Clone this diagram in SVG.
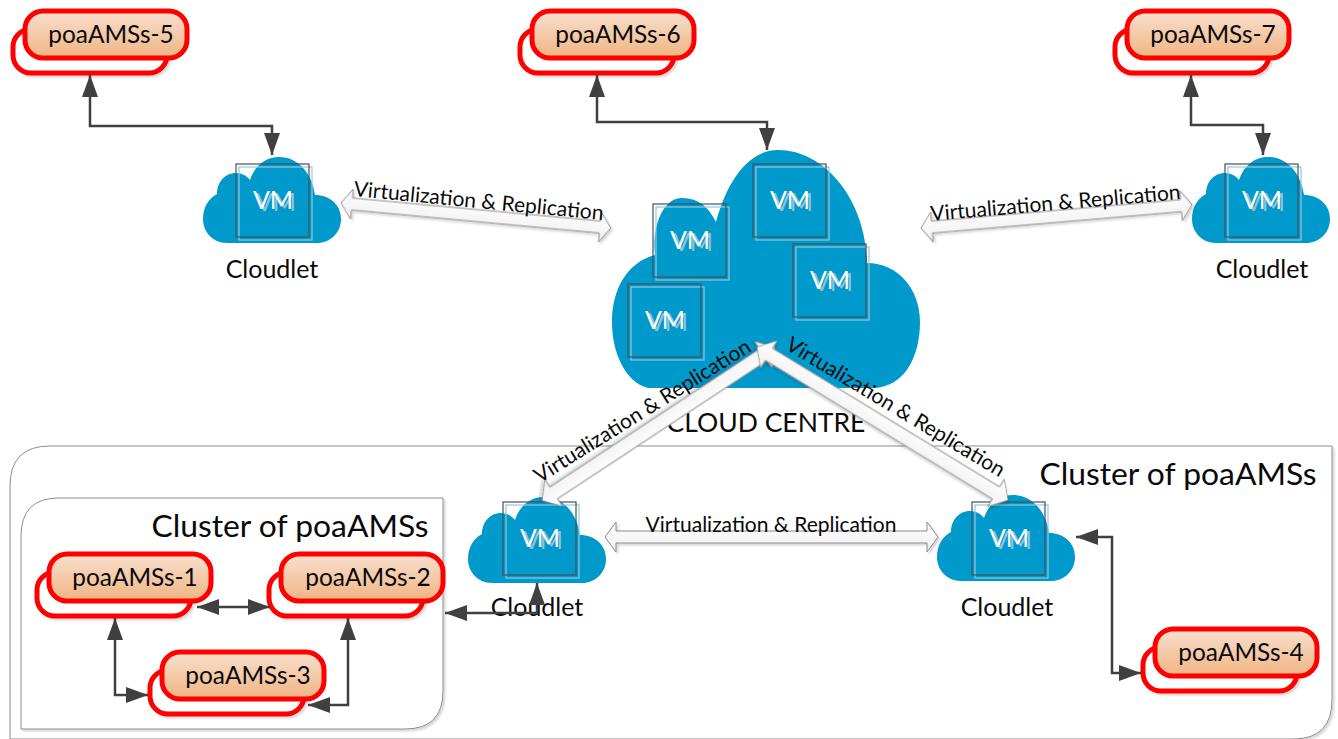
<svg xmlns="http://www.w3.org/2000/svg" xmlns:xlink="http://www.w3.org/1999/xlink" width="1338" height="739" viewBox="0 0 1338 739">
<style>
text{font-family:Lato,"Open Sans",sans-serif;fill:#0a0a0a}
.poa{font-size:24.4px;text-anchor:middle}
.big{font-size:31.8px;text-anchor:middle}
.cc{font-size:26.5px;text-anchor:middle}
.cl{font-size:25px;text-anchor:middle}
.vr{font-size:21px;text-anchor:middle}
.vm{font-size:25px;text-anchor:middle;fill:#fff}
.vs{font-size:25px;text-anchor:middle;fill:#8cc4da}
.cloud{fill:#0099cc}
.sq1{fill:none;stroke:#4a4f55;stroke-width:1.2}
.sq2{fill:none;stroke:#8fcae2;stroke-width:1.2}
.conn{fill:none;stroke:#404040;stroke-width:2.5;marker-start:url(#ah);marker-end:url(#ah)}
.blk{fill:url(#bg);stroke:#8a8a8a;stroke-width:1;filter:url(#sh)}
.frame{fill:#fff;stroke:#8c8c8c;stroke-width:1;filter:url(#sh)}
</style>
<defs>
<linearGradient id="og" x1="0" y1="0" x2="0" y2="1"><stop offset="0" stop-color="#f8e0cf"/><stop offset="1" stop-color="#f0b482"/></linearGradient>
<linearGradient id="bg" x1="0" y1="0" x2="0" y2="1"><stop offset="0" stop-color="#ffffff"/><stop offset="1" stop-color="#f0f0f0"/></linearGradient>
<filter id="sh" x="-5%" y="-30%" width="110%" height="170%"><feDropShadow dx="2" dy="2" stdDeviation="1" flood-color="#000" flood-opacity=".16"/></filter>
<marker id="ah" markerUnits="userSpaceOnUse" markerWidth="24" markerHeight="18" refX="22" refY="8" orient="auto-start-reverse"><path d="M0,0L22,8L0,16Z" fill="#404040"/></marker>
<g id="poaShape">
<rect x="13" y="29" width="154" height="44" rx="18" fill="#fff" stroke="#ff0000" stroke-width="5" filter="url(#sh)"/>
<rect x="25" y="11" width="162" height="47" rx="18" fill="url(#og)" stroke="#ff0000" stroke-width="5"/>
</g>
<path id="smallCloud" class="cloud" d="M24,86C9,86 0,74 0,62C0,50 6,41 14,37C14,25 22,16 33,16C39,16 44,19 47,23C52,8 63,0 76,0C95,0 109,16 112,38C127,38 138,48 138,62C138,76 127,86 114,86Z"/>
<g id="vm">
<rect class="sq2" x="3" y="3" width="73" height="73"/>
<rect class="sq1" width="73" height="73"/>
<text class="vs" x="40" y="47">VM</text>
<text class="vm" x="37" y="45">VM</text>
</g>
</defs>

<g id="cluster-outer">
<path class="frame" d="M50,446H1332V700Q1332,739 1293,739H10V486Q10,446 50,446Z"/>
<text class="big" x="1178" y="485">Cluster of poaAMSs</text>
</g>
<g id="cluster-inner">
<path class="frame" d="M59,498H443V691Q443,729 405,729H21V536Q21,498 59,498Z"/>
<text class="big" x="290" y="537">Cluster of poaAMSs</text>
</g>

<g id="cloud-centre">
<path class="cloud" d="M648,388C625,382 612,352 612,322C612,288 628,262 655,255C652,228 662,198 682,198C698,198 708,206 716,222C728,178 750,150 778,150C825,150 866,200 867,263C897,263 920,288 920,322C920,356 905,388 872,388Z"/>
<use href="#vm" x="653" y="204"/>
<use href="#vm" x="753" y="164"/>
<use href="#vm" x="793" y="244"/>
<use href="#vm" x="628" y="284"/>
<text class="cc" x="766" y="432">CLOUD CENTRE</text>
</g>
<g id="cloudlet-a"><use href="#smallCloud" x="203" y="157"/><use href="#vm" x="236" y="164"/><text class="cl" x="272" y="278">Cloudlet</text></g>
<g id="cloudlet-b"><use href="#smallCloud" x="1192" y="157"/><use href="#vm" x="1225" y="164"/><text class="cl" x="1262" y="278">Cloudlet</text></g>
<g id="cloudlet-c"><use href="#smallCloud" x="468" y="497"/><use href="#vm" x="503" y="502"/><text class="cl" x="537" y="616">Cloudlet</text></g>
<g id="cloudlet-d"><use href="#smallCloud" x="937" y="495"/><use href="#vm" x="972" y="502"/><text class="cl" x="1007" y="616">Cloudlet</text></g>

<g id="node-5"><use href="#poaShape"/><text class="poa" x="111" y="43">poaAMSs-5</text></g>
<g id="node-6"><use href="#poaShape" x="507"/><text class="poa" x="618" y="43">poaAMSs-6</text></g>
<g id="node-7"><use href="#poaShape" x="1102"/><text class="poa" x="1213" y="43">poaAMSs-7</text></g>
<g id="node-1"><use href="#poaShape" x="24" y="543"/><text class="poa" x="135" y="586">poaAMSs-1</text></g>
<g id="node-2"><use href="#poaShape" x="256" y="543"/><text class="poa" x="368" y="586">poaAMSs-2</text></g>
<g id="node-3"><use href="#poaShape" x="137" y="641"/><text class="poa" x="248" y="684">poaAMSs-3</text></g>
<g id="node-4"><use href="#poaShape" x="1130" y="618"/><text class="poa" x="1241" y="661">poaAMSs-4</text></g>

<g id="connectors">
<path class="conn" d="M90,75V126H272V155"/>
<path class="conn" d="M597,75V122H767V150"/>
<path class="conn" d="M1191,75V125H1263V155"/>
<path class="conn" d="M197,607H270"/>
<path class="conn" d="M115,618V695H148"/>
<path class="conn" d="M348,618V705H308"/>
<path class="conn" d="M445,613H537V583"/>
<path class="conn" d="M1076,537H1112V673H1141"/>
<path class="blk" transform="translate(341,203) rotate(5.3)" d="M0,0L11,-15V-6H260V-15L271,0L260,15V6H11V15Z"/>
<path class="blk" transform="translate(921,228) rotate(-4.9)" d="M0,0L11,-15V-6H261V-15L272,0L261,15V6H11V15Z"/>
<path class="blk" transform="translate(605,537)" d="M0,0L11,-15V-6H322V-15L333,0L322,15V6H11V15Z"/>
<path class="blk" transform="translate(775,347) rotate(146.6)" d="M0,0L14,-16V-7H265V-16L279,0L265,16V7H14V16Z"/>
<path class="blk" transform="translate(757,347) rotate(31.4)" d="M0,0L14,-16V-7H280V-16L294,0L280,16V7H14V16Z"/>
<text class="vr" transform="translate(478,208) rotate(5.5)">Virtualization &amp; Replication</text>
<text class="vr" transform="translate(1056,210) rotate(-5)">Virtualization &amp; Replication</text>
<text class="vr" x="771" y="532">Virtualization &amp; Replication</text>
<text class="vr" transform="translate(646,417) rotate(-32)">Virtualization &amp; Replication</text>
<text class="vr" transform="translate(892,413) rotate(31)">Virtualization &amp; Replication</text>
</g>
</svg>
